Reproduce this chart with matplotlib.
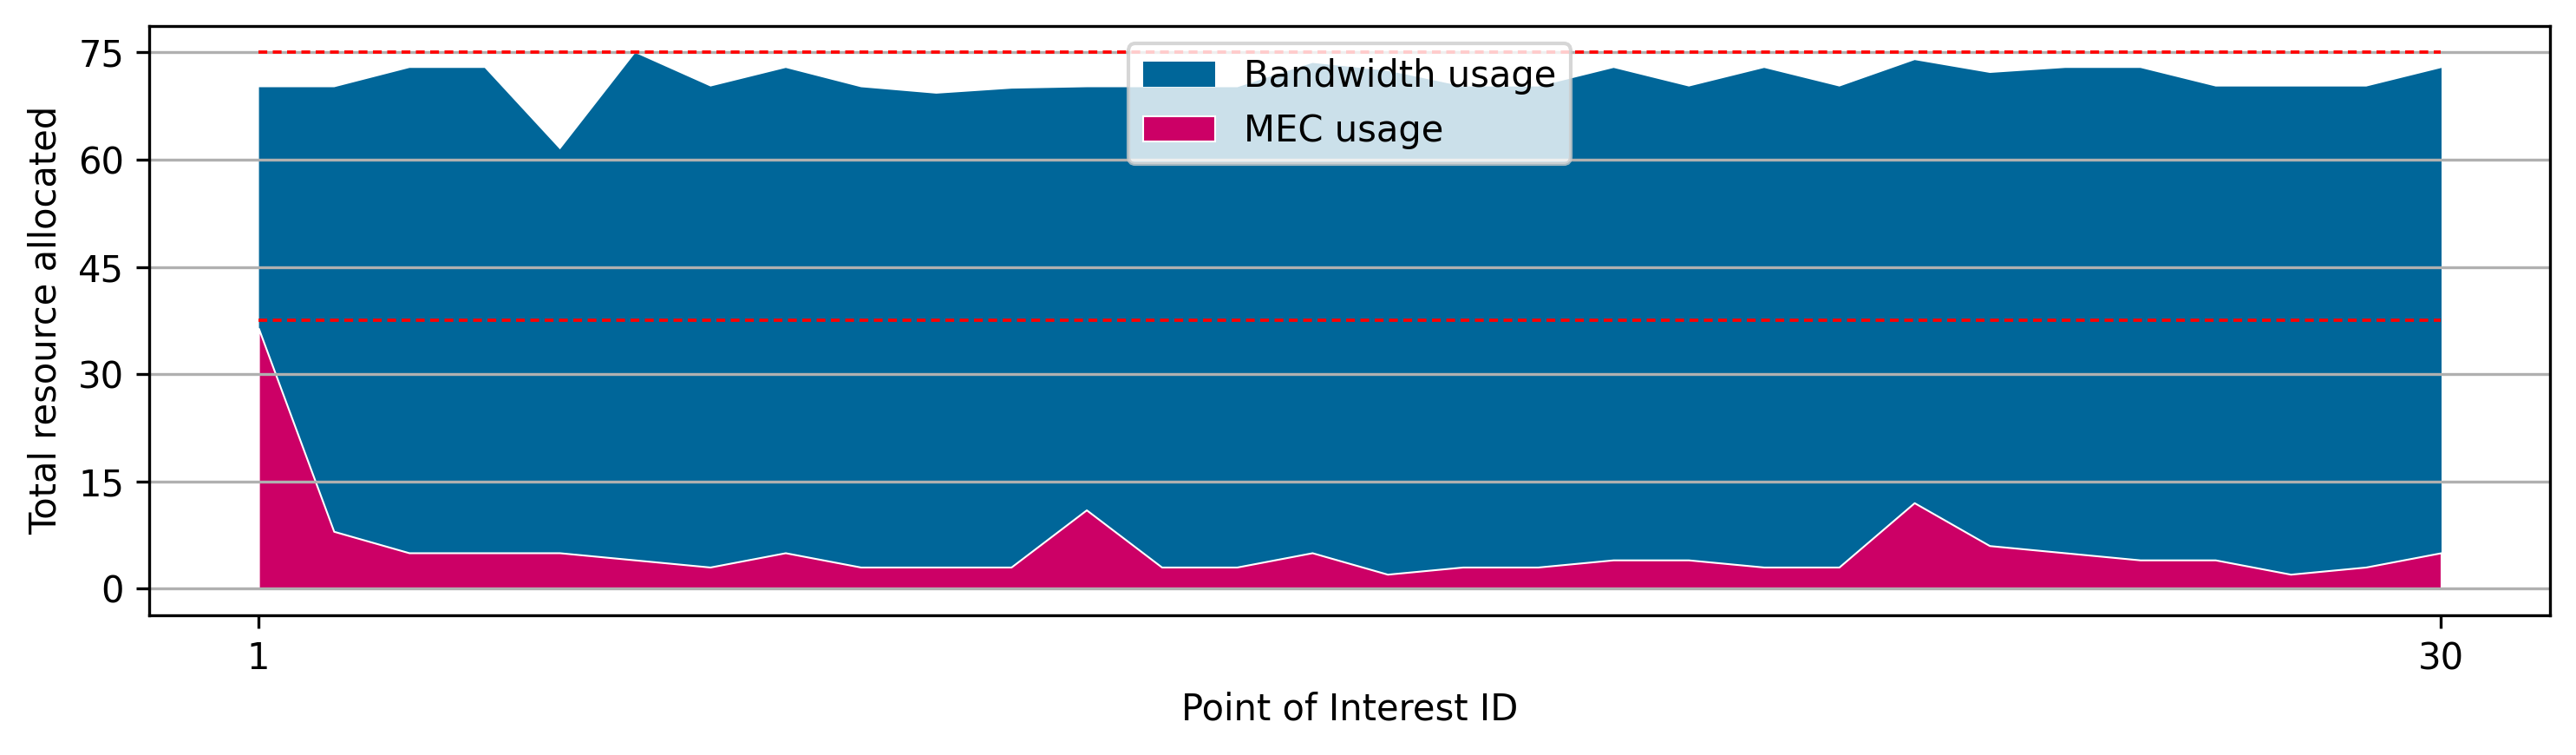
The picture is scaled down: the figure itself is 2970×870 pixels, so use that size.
import numpy as np
import matplotlib
matplotlib.use("Agg")
import matplotlib.pyplot as plt

### data
poi = np.arange(1, 31)
total = [70.2, 70.2, 72.9, 72.9, 61.5, 75.0, 70.3, 72.9, 70.2, 69.3,
         70.0, 70.2, 70.2, 70.2, 73.6, 72.5, 70.3, 70.3, 72.9, 70.3,
         72.9, 70.3, 74.0, 72.2, 72.9, 72.9, 70.3, 70.3, 70.3, 72.9]
mec = [36.4, 8, 5, 5, 5, 4, 3, 5, 3, 3,
       3, 11, 3, 3, 5, 2, 3, 3, 4, 4,
       3, 3, 12, 6, 5, 4, 4, 2, 3, 5]
total_cap = 75
mec_cap = 37.5

### plotting
fig = plt.figure(figsize=(9.9, 2.9), dpi=300)
ax = fig.add_axes([0.058, 0.185, 0.932, 0.781])

ax.fill_between(poi, 0, total, color="#006699", linewidth=0, label="Bandwidth usage")
ax.fill_between(poi, 0, mec, facecolor="#cc0066", edgecolor="white", linewidth=0.5, label="MEC usage")

for cap in [total_cap, mec_cap]:
    ax.plot([poi[0], poi[-1]], [cap, cap], color="red", linewidth=0.9, dashes=(2.7, 1.7))

ax.set_xticks([poi[0], poi[-1]])
ax.set_yticks([0, 15, 30, 45, 60, 75])
ax.grid(axis="y", color="#b0b0b0")

ax.set_xlabel("Point of Interest ID")
ax.set_ylabel("Total resource allocated")
ax.legend(loc="upper center")

plt.savefig("out.png", dpi=300)
